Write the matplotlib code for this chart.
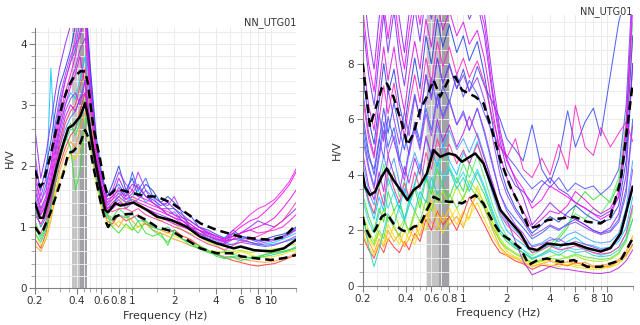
import matplotlib
matplotlib.use("Agg")
import matplotlib.pyplot as plt
from matplotlib.ticker import FixedLocator, NullFormatter, MultipleLocator

# frequency grid shared by the individual window curves (Hz)
freq = [0.2, 0.22, 0.24, 0.26, 0.28, 0.3, 0.33, 0.36, 0.39, 0.42, 0.46, 0.5, 0.55, 0.6,
        0.66, 0.72, 0.8, 0.9, 1.0, 1.1, 1.25, 1.4, 1.6, 1.8, 2.0, 2.3, 2.6, 3.0, 3.5, 4.0,
        4.6, 5.3, 6.0, 7.0, 8.0, 9.0, 10.5, 12.0, 13.5, 15.0]

# ---- left panel ----
left_mean_f = [0.2, 0.217, 0.229, 0.257, 0.287, 0.32, 0.347, 0.376, 0.422, 0.458, 0.48, 0.525,
               0.588, 0.638, 0.67, 0.754, 0.82, 1.02, 1.27, 1.5, 1.92, 2.47, 3.08, 4.05, 5.35,
               6.0, 7.5, 9.9, 12.3, 15.0]
left_mean = [1.39, 1.15, 1.15, 1.55, 1.99, 2.37, 2.62, 2.67, 2.81, 3.03, 2.81, 2.26, 1.66, 1.28,
             1.24, 1.39, 1.35, 1.40, 1.28, 1.17, 1.11, 1.0, 0.84, 0.73, 0.65, 0.68, 0.62, 0.60,
             0.65, 0.79]
left_upper = [1.93, 1.66, 1.72, 2.15, 2.64, 3.08, 3.30, 3.44, 3.55, 3.55, 3.35, 2.64, 2.10, 1.66,
              1.50, 1.61, 1.61, 1.55, 1.50, 1.50, 1.39, 1.22, 1.06, 0.95, 0.87, 0.84, 0.81,
              0.79, 0.84, 1.03]
left_lower = [1.0, 0.88, 0.95, 1.22, 1.55, 1.88, 2.21, 2.24, 2.37, 2.59, 2.48, 1.99, 1.44, 1.11,
              1.0, 1.17, 1.2, 1.22, 1.11, 1.0, 0.93, 0.79, 0.65, 0.57, 0.57, 0.52, 0.49, 0.46,
              0.49, 0.54]

left_windows = [
    ("#ff3030", [0.8, 0.65, 0.9, 1.3, 1.7, 2.0, 2.3, 2.5, 2.6, 2.9, 3.2, 2.4, 1.8, 1.4, 1.1, 1.05, 1.2, 1.1, 1.15, 1.2, 1.05, 1.0, 0.95, 0.9, 0.95, 0.85, 0.8, 0.7, 0.6, 0.55, 0.5, 0.45, 0.42, 0.38, 0.36, 0.38, 0.40, 0.45, 0.5, 0.55]),
    ("#ff9a20", [0.7, 0.6, 0.8, 1.1, 1.5, 1.9, 2.2, 2.4, 2.3, 2.6, 2.9, 2.5, 1.9, 1.5, 1.2, 1.1, 1.0, 1.2, 1.1, 1.0, 1.05, 0.95, 0.9, 0.85, 0.8, 0.75, 0.7, 0.65, 0.6, 0.55, 0.52, 0.5, 0.48, 0.45, 0.43, 0.42, 0.44, 0.48, 0.52, 0.58]),
    ("#f0e000", [0.9, 0.7, 0.8, 1.2, 1.6, 1.8, 2.0, 2.2, 2.1, 2.3, 2.6, 2.3, 1.7, 1.3, 1.1, 1.0, 1.1, 1.0, 0.95, 1.0, 1.1, 1.0, 0.95, 0.9, 0.85, 0.8, 0.75, 0.68, 0.62, 0.6, 0.58, 0.55, 0.6, 0.55, 0.5, 0.5, 0.52, 0.55, 0.6, 0.62]),
    ("#30e030", [1.1, 0.85, 1.0, 1.4, 1.9, 2.2, 2.5, 2.3, 1.6, 1.9, 2.8, 2.6, 2.0, 1.5, 1.2, 1.0, 0.9, 1.05, 0.95, 1.1, 0.9, 0.85, 0.9, 0.7, 0.95, 0.8, 0.75, 0.7, 0.62, 0.52, 0.48, 0.5, 0.45, 0.48, 0.5, 0.55, 0.58, 0.6, 0.62, 0.65]),
    ("#a0f000", [1.3, 1.0, 1.2, 1.5, 2.0, 2.4, 2.7, 2.9, 3.0, 3.3, 3.5, 2.8, 2.1, 1.6, 1.3, 1.4, 1.5, 1.3, 1.5, 1.4, 1.3, 1.2, 1.1, 1.15, 1.05, 0.95, 0.9, 0.85, 0.75, 0.7, 0.62, 0.6, 0.62, 0.58, 0.6, 0.62, 0.64, 0.66, 0.7, 0.72]),
    ("#00c8ff", [1.6, 1.3, 1.5, 3.6, 2.2, 2.6, 3.0, 3.2, 3.1, 3.4, 3.8, 3.0, 2.2, 1.7, 1.4, 1.3, 1.6, 1.4, 1.5, 1.6, 1.4, 1.5, 1.3, 1.2, 1.15, 1.1, 1.0, 0.9, 0.85, 0.8, 0.75, 0.7, 0.8, 0.75, 0.7, 0.72, 0.75, 0.8, 0.85, 0.9]),
    ("#20d0a0", [0.9, 0.75, 0.95, 1.3, 1.7, 2.1, 2.4, 2.6, 2.6, 2.8, 3.0, 2.4, 1.8, 1.4, 1.15, 1.1, 1.2, 1.15, 1.2, 1.1, 1.1, 1.0, 0.95, 1.0, 0.9, 0.8, 0.75, 0.65, 0.6, 0.55, 0.5, 0.52, 0.5, 0.5, 0.5, 0.52, 0.55, 0.58, 0.62, 0.68]),
    ("#40e040", [1.0, 0.8, 1.0, 1.3, 1.8, 2.2, 2.5, 2.7, 2.5, 2.7, 3.1, 2.5, 1.85, 1.45, 1.2, 1.15, 1.3, 1.2, 1.0, 0.9, 1.1, 0.95, 0.85, 0.75, 0.9, 0.8, 0.7, 0.65, 0.58, 0.55, 0.6, 0.55, 0.52, 0.5, 0.52, 0.55, 0.58, 0.6, 0.63, 0.66]),
    ("#3060ff", [1.8, 1.4, 1.7, 2.0, 2.6, 3.0, 3.4, 3.7, 3.9, 4.4, 4.6, 3.5, 2.4, 1.8, 1.5, 1.6, 1.7, 1.5, 1.9, 1.6, 1.8, 1.5, 1.4, 1.3, 1.3, 1.2, 1.0, 0.95, 0.85, 0.8, 0.78, 0.9, 0.85, 0.8, 0.75, 0.78, 0.8, 0.85, 0.9, 0.95]),
    ("#2040e0", [2.0, 1.6, 2.0, 2.4, 2.9, 3.3, 3.6, 3.9, 4.3, 4.5, 4.8, 3.6, 2.5, 1.9, 1.5, 1.7, 2.0, 1.6, 1.8, 1.5, 1.7, 1.6, 1.4, 1.5, 1.4, 1.25, 1.2, 1.0, 0.95, 0.88, 0.82, 0.95, 0.85, 0.82, 0.78, 0.8, 0.85, 0.88, 0.92, 1.0]),
    ("#4080ff", [1.3, 1.0, 1.15, 1.45, 1.9, 2.3, 2.6, 2.8, 2.9, 3.1, 3.4, 2.6, 1.95, 1.5, 1.3, 1.35, 1.5, 1.6, 1.4, 1.45, 1.6, 1.4, 1.3, 1.2, 1.25, 1.1, 1.0, 0.9, 0.82, 0.78, 0.72, 0.9, 0.8, 0.75, 0.72, 0.7, 0.72, 0.75, 0.78, 0.82]),
    ("#9020f0", [2.6, 1.8, 2.2, 2.7, 3.2, 3.6, 4.0, 4.3, 4.5, 4.6, 4.7, 3.4, 2.3, 1.8, 1.45, 1.5, 1.8, 1.55, 1.7, 1.65, 1.5, 1.45, 1.35, 1.4, 1.3, 1.15, 1.1, 1.0, 0.9, 0.85, 0.8, 0.85, 0.9, 1.0, 1.1, 1.05, 1.0, 1.1, 1.2, 1.3]),
    ("#8a40ff", [1.5, 1.2, 1.35, 1.7, 2.1, 2.5, 2.9, 3.1, 3.2, 3.0, 3.4, 2.7, 2.0, 1.55, 1.3, 1.35, 1.45, 1.3, 1.4, 1.35, 1.3, 1.25, 1.2, 1.15, 1.1, 1.05, 0.95, 0.9, 0.8, 0.75, 0.7, 0.72, 0.75, 0.72, 0.7, 0.68, 0.7, 0.75, 0.8, 0.85]),
    ("#b030ff", [2.2, 1.5, 1.8, 2.2, 2.7, 3.1, 3.5, 3.8, 4.0, 4.1, 4.5, 3.3, 2.3, 1.8, 1.5, 1.6, 1.9, 1.7, 1.6, 1.9, 1.6, 1.5, 1.4, 1.35, 1.5, 1.2, 1.1, 1.0, 0.92, 0.85, 0.78, 0.8, 0.78, 0.75, 0.72, 0.75, 0.78, 0.82, 0.88, 0.95]),
    ("#a030e0", [1.6, 1.25, 1.45, 1.8, 2.3, 2.7, 3.1, 3.4, 3.6, 3.9, 4.1, 3.1, 2.2, 1.65, 1.35, 1.45, 1.65, 1.45, 1.55, 1.7, 1.5, 1.4, 1.3, 1.3, 1.2, 1.15, 1.05, 0.95, 0.88, 0.82, 0.76, 0.8, 0.82, 0.8, 0.78, 0.78, 0.8, 0.84, 0.9, 0.98]),
    ("#ff3399", [1.0, 0.9, 1.1, 1.4, 1.8, 2.3, 2.7, 2.9, 3.0, 3.3, 3.6, 2.9, 2.1, 1.6, 1.3, 1.25, 1.3, 1.3, 1.25, 1.3, 1.2, 1.15, 1.1, 1.05, 1.0, 0.95, 0.88, 0.8, 0.72, 0.68, 0.62, 0.7, 0.75, 0.8, 0.85, 0.9, 1.0, 1.1, 1.25, 1.4]),
    ("#ff00ff", [1.4, 1.2, 1.4, 1.7, 2.2, 2.6, 3.0, 3.3, 3.5, 3.8, 3.3, 2.6, 2.0, 1.6, 1.3, 1.4, 1.5, 1.4, 1.45, 1.4, 1.35, 1.3, 1.25, 1.2, 1.15, 1.1, 1.0, 0.95, 0.9, 0.85, 0.8, 0.9, 1.0, 1.1, 1.15, 1.25, 1.4, 1.55, 1.7, 1.9]),
    ("#e800e8", [1.2, 1.05, 1.2, 1.5, 2.0, 2.4, 2.8, 3.0, 2.9, 3.1, 3.2, 2.5, 1.9, 1.5, 1.25, 1.3, 1.4, 1.35, 1.4, 1.35, 1.3, 1.25, 1.15, 1.1, 1.05, 1.0, 0.95, 0.85, 0.8, 0.75, 0.72, 0.8, 0.9, 0.95, 1.0, 1.05, 1.15, 1.3, 1.45, 1.6]),
    ("#ff10e0", [1.7, 1.3, 1.5, 1.9, 2.4, 2.8, 3.2, 3.5, 3.8, 4.2, 4.4, 3.2, 2.3, 1.7, 1.4, 1.5, 1.6, 1.5, 1.6, 1.5, 1.45, 1.4, 1.3, 1.25, 1.2, 1.1, 1.05, 0.95, 0.85, 0.8, 0.75, 0.85, 0.9, 0.95, 0.9, 0.92, 0.95, 1.0, 1.1, 1.2]),
    ("#f020f0", [1.9, 1.4, 1.6, 2.0, 2.5, 2.9, 3.4, 3.7, 4.1, 4.5, 4.3, 3.1, 2.2, 1.7, 1.4, 1.45, 1.55, 1.45, 1.5, 1.45, 1.4, 1.35, 1.3, 1.2, 1.15, 1.05, 1.0, 0.9, 0.85, 0.8, 0.78, 0.95, 1.05, 1.2, 1.3, 1.35, 1.45, 1.6, 1.75, 1.95]),
]

# ---- right panel ----
right_mean_f = [0.2, 0.2075, 0.2246, 0.2437, 0.271, 0.294, 0.327, 0.374, 0.409, 0.451, 0.501,
                0.558, 0.621, 0.69, 0.789, 0.879, 0.978, 1.21, 1.38, 1.58, 1.81, 2.12, 2.49,
                2.85, 3.26, 3.82, 4.73, 5.86, 7.26, 8.98, 10.5, 12.4, 15.0]
right_mean = [4.05, 3.57, 3.27, 3.39, 3.93, 4.23, 3.81, 3.39, 3.09, 3.45, 3.63, 4.05, 4.89, 4.65,
              4.77, 4.71, 4.47, 4.77, 4.41, 3.57, 2.73, 2.31, 1.90, 1.36, 1.29, 1.53, 1.47,
              1.53, 1.36, 1.24, 1.36, 1.90, 3.57]
right_upper = [8.01, 7.29, 5.73, 6.33, 7.11, 7.29, 6.81, 5.85, 5.07, 5.49, 6.33, 6.81, 7.41, 6.81,
               7.41, 7.53, 7.05, 6.81, 6.57, 5.61, 4.53, 3.57, 2.85, 2.08, 2.14, 2.37, 2.43,
               2.49, 2.31, 2.25, 2.49, 3.81, 7.29]
right_lower = [2.49, 2.13, 1.77, 2.01, 2.49, 2.61, 2.25, 2.01, 1.95, 2.13, 2.19, 2.73, 3.21, 3.09,
               3.03, 3.03, 2.97, 3.27, 2.97, 2.37, 1.89, 1.65, 1.36, 0.76, 0.93, 0.99, 0.87,
               0.93, 0.69, 0.69, 0.81, 0.93, 1.71]

right_windows = [
    ("#ff3030", [1.8, 1.3, 1.0, 1.5, 1.2, 1.7, 1.4, 1.2, 1.6, 1.3, 1.9, 1.6, 2.4, 2.0, 2.7, 2.2, 2.5, 2.0, 2.6, 3.2, 2.7, 2.2, 1.6, 1.2, 1.1, 0.9, 0.8, 0.6, 0.75, 0.7, 0.8, 0.72, 0.85, 0.75, 0.68, 0.7, 0.72, 0.9, 1.1, 1.5]),
    ("#ff9a20", [2.1, 1.6, 1.2, 1.7, 1.4, 2.0, 1.6, 1.9, 1.4, 1.7, 2.2, 1.8, 2.6, 2.3, 2.0, 2.6, 2.2, 2.5, 2.1, 2.8, 3.3, 2.8, 2.0, 1.4, 1.15, 1.0, 0.85, 0.7, 0.8, 0.9, 0.78, 0.88, 0.8, 0.85, 0.72, 0.75, 0.8, 0.95, 1.25, 1.8]),
    ("#f0e000", [2.3, 1.7, 1.4, 1.9, 1.5, 2.2, 1.8, 1.5, 2.0, 1.7, 1.5, 2.1, 2.5, 2.9, 2.3, 1.9, 2.4, 2.8, 2.2, 2.5, 3.0, 2.4, 1.8, 1.35, 1.1, 1.0, 0.88, 0.72, 0.82, 0.75, 0.7, 0.78, 0.68, 0.64, 0.6, 0.62, 0.68, 0.8, 1.05, 1.45]),
    ("#ffd000", [1.9, 1.4, 1.1, 1.5, 1.9, 1.6, 2.2, 1.7, 1.5, 2.0, 1.7, 2.4, 2.0, 3.1, 2.6, 2.3, 2.8, 2.2, 2.7, 2.4, 3.6, 2.9, 2.2, 1.6, 1.25, 1.05, 0.95, 0.78, 0.88, 0.95, 0.82, 0.85, 0.75, 0.72, 0.68, 0.66, 0.7, 0.88, 1.2, 1.7]),
    ("#a0f000", [2.6, 2.0, 1.6, 2.2, 2.8, 2.3, 2.7, 2.1, 2.4, 1.9, 2.6, 3.1, 2.7, 3.5, 3.0, 3.4, 2.9, 3.6, 3.1, 3.8, 3.4, 3.0, 2.3, 1.7, 1.4, 1.2, 1.05, 0.85, 0.95, 1.05, 1.15, 1.0, 1.1, 0.95, 0.9, 0.88, 0.95, 1.15, 1.7, 2.7]),
    ("#30e030", [3.3, 2.5, 2.0, 2.8, 2.3, 3.4, 2.7, 3.1, 2.4, 2.9, 3.5, 2.8, 3.9, 3.3, 4.2, 3.6, 3.2, 3.9, 3.4, 4.4, 3.8, 3.3, 2.5, 1.9, 1.6, 1.35, 1.2, 0.95, 1.15, 1.35, 1.7, 2.1, 2.9, 3.4, 3.1, 3.3, 3.0, 3.7, 5.5, 9.0]),
    ("#50f070", [4.0, 3.0, 2.6, 3.5, 4.4, 3.6, 4.1, 3.2, 3.8, 3.0, 3.6, 4.3, 3.7, 4.6, 4.1, 4.8, 4.2, 3.7, 4.4, 3.9, 4.7, 3.9, 2.9, 2.2, 1.8, 1.5, 1.3, 1.1, 1.3, 1.5, 1.8, 2.2, 2.6, 2.4, 2.8, 2.6, 3.1, 3.9, 6.0, 9.5]),
    ("#60e040", [2.4, 1.8, 1.5, 2.0, 1.7, 2.5, 2.1, 1.8, 2.3, 2.0, 2.7, 2.3, 3.1, 2.7, 3.4, 2.9, 3.3, 2.8, 3.2, 3.6, 3.2, 2.8, 2.1, 1.6, 1.35, 1.15, 1.0, 0.82, 0.92, 1.0, 0.95, 1.05, 1.15, 1.05, 1.0, 0.95, 1.0, 1.2, 1.6, 2.4]),
    ("#20d0c0", [2.7, 1.4, 0.7, 1.3, 2.0, 2.6, 2.2, 2.9, 2.4, 3.1, 2.7, 3.4, 3.0, 3.9, 3.3, 3.7, 4.2, 3.5, 3.9, 3.4, 4.1, 3.5, 2.6, 2.0, 1.7, 1.4, 1.2, 1.0, 1.1, 1.25, 1.1, 1.3, 1.2, 1.25, 1.1, 1.05, 1.1, 1.3, 1.7, 2.4]),
    ("#00c8ff", [3.8, 3.0, 2.4, 3.2, 2.7, 3.9, 3.3, 2.8, 3.5, 3.0, 3.7, 4.4, 3.8, 4.9, 4.3, 5.1, 4.5, 4.0, 4.8, 4.4, 5.2, 4.3, 3.3, 2.5, 2.0, 1.7, 1.5, 1.2, 1.35, 1.5, 1.35, 1.6, 1.75, 1.5, 1.45, 1.35, 1.4, 1.6, 2.1, 3.2]),
    ("#30d8f0", [3.1, 2.3, 1.9, 2.6, 3.3, 2.8, 3.4, 2.7, 2.3, 2.9, 3.6, 3.1, 4.0, 3.5, 4.5, 3.9, 4.3, 3.7, 4.1, 3.6, 4.2, 3.6, 2.7, 2.0, 1.7, 1.45, 1.3, 1.0, 1.15, 1.3, 1.2, 1.4, 1.3, 1.35, 1.2, 1.1, 1.2, 1.4, 1.9, 2.8]),
    ("#40a0ff", [4.5, 3.4, 2.9, 3.9, 4.7, 4.0, 4.6, 3.7, 3.3, 4.1, 4.8, 4.2, 5.3, 4.7, 5.8, 5.0, 5.6, 4.9, 5.3, 4.8, 5.5, 4.7, 3.6, 2.7, 2.3, 2.0, 1.7, 1.45, 1.55, 1.75, 1.6, 1.85, 1.95, 1.75, 1.6, 1.55, 1.6, 1.9, 2.8, 4.5]),
    ("#3060ff", [5.6, 4.3, 3.6, 4.8, 5.9, 5.0, 5.7, 4.6, 4.0, 4.9, 5.8, 5.0, 6.4, 5.6, 6.9, 6.1, 6.7, 5.8, 6.3, 5.6, 6.4, 5.5, 4.3, 3.3, 2.8, 2.4, 2.1, 1.7, 1.9, 2.15, 2.0, 2.25, 2.4, 2.2, 2.0, 1.9, 2.0, 2.4, 3.5, 6.0]),
    ("#3848f0", [6.2, 4.8, 4.0, 5.2, 6.4, 5.5, 6.6, 5.6, 4.9, 5.8, 6.9, 6.0, 7.6, 6.8, 8.2, 7.3, 8.0, 7.1, 7.8, 7.0, 7.9, 7.2, 6.6, 6.0, 5.3, 4.9, 4.5, 5.8, 4.2, 3.7, 4.6, 6.3, 5.0, 5.9, 6.4, 5.4, 7.6, 9.5, 10.5, 11.0]),
    ("#2040e0", [7.6, 6.0, 5.1, 6.6, 8.0, 6.9, 7.8, 6.5, 5.7, 6.9, 8.2, 7.1, 9.0, 8.0, 9.6, 8.6, 9.4, 8.4, 9.0, 8.1, 8.8, 7.6, 5.8, 4.3, 3.5, 2.8, 2.4, 1.9, 2.2, 2.5, 2.3, 2.65, 2.9, 2.6, 2.4, 2.3, 2.4, 2.9, 4.5, 8.0]),
    ("#5050ff", [5.9, 4.6, 4.2, 5.3, 4.6, 6.1, 5.2, 4.5, 5.5, 4.7, 5.9, 5.2, 6.6, 7.5, 6.4, 7.2, 6.6, 7.6, 6.8, 7.4, 6.9, 6.2, 5.5, 5.0, 4.7, 4.3, 3.9, 3.5, 3.8, 3.55, 3.9, 3.4, 3.7, 3.5, 3.6, 3.3, 3.6, 4.2, 6.5, 11.0]),
    ("#6a30f0", [9.5, 7.6, 6.5, 8.2, 9.8, 8.4, 9.9, 8.2, 7.2, 8.6, 10.0, 8.8, 10.5, 9.6, 11.0, 10.2, 10.8, 9.8, 10.4, 9.6, 10.2, 9.0, 6.8, 5.2, 4.2, 3.6, 3.4, 3.0, 3.6, 3.9, 3.5, 3.3, 3.0, 2.8, 2.6, 2.5, 2.7, 3.2, 5.0, 9.0]),
    ("#9020f0", [11.0, 9.0, 7.8, 9.6, 11.0, 9.8, 11.0, 9.6, 8.4, 9.8, 11.0, 10.0, 11.5, 10.8, 11.5, 11.0, 11.5, 10.8, 11.2, 10.5, 11.0, 9.8, 7.4, 5.6, 4.6, 3.8, 3.2, 2.2, 2.6, 3.0, 2.7, 2.5, 2.4, 2.2, 2.0, 1.9, 2.1, 2.6, 4.0, 8.0]),
    ("#a040ff", [5.3, 4.2, 3.5, 4.6, 5.6, 4.7, 5.4, 4.4, 3.8, 4.8, 5.6, 4.9, 6.2, 5.4, 6.8, 6.0, 6.6, 5.8, 6.2, 5.6, 6.4, 5.6, 4.4, 3.3, 2.7, 2.2, 1.9, 1.4, 1.5, 1.65, 1.7, 1.5, 1.6, 1.5, 1.4, 1.3, 1.4, 1.7, 2.5, 4.2]),
    ("#8c3cf0", [7.0, 5.5, 4.7, 6.2, 5.2, 7.1, 6.0, 5.1, 6.3, 5.4, 6.8, 6.0, 7.6, 6.7, 8.2, 7.3, 7.9, 7.1, 7.6, 7.0, 7.5, 6.7, 5.3, 4.0, 3.3, 2.7, 2.3, 1.8, 2.0, 2.2, 2.05, 2.2, 2.3, 2.1, 1.95, 1.85, 1.95, 2.3, 3.3, 5.8]),
    ("#b020e0", [4.8, 3.6, 3.1, 4.1, 3.4, 4.7, 4.0, 3.4, 4.3, 3.7, 4.6, 4.0, 5.4, 4.7, 6.0, 5.2, 5.8, 5.0, 5.5, 6.1, 5.4, 4.6, 3.7, 2.8, 2.4, 1.6, 0.9, 0.4, 0.55, 0.7, 0.62, 0.6, 0.55, 0.5, 0.46, 0.45, 0.5, 0.65, 0.9, 1.3]),
    ("#ff3399", [4.0, 3.1, 2.6, 3.5, 2.9, 4.2, 3.5, 3.0, 3.7, 3.2, 4.1, 3.5, 4.8, 4.2, 5.3, 4.6, 5.1, 4.4, 4.9, 4.4, 5.1, 4.4, 3.4, 2.6, 2.2, 1.9, 1.6, 1.2, 1.3, 1.45, 1.3, 1.35, 1.45, 1.3, 1.2, 1.15, 1.2, 1.4, 1.9, 2.9]),
    ("#ff20c0", [6.8, 5.3, 4.6, 6.0, 7.2, 6.2, 7.3, 6.1, 5.4, 6.5, 7.6, 6.6, 8.2, 7.3, 8.8, 7.9, 8.6, 7.6, 8.2, 7.5, 8.1, 7.3, 6.0, 5.0, 4.6, 5.3, 4.2, 3.9, 4.6, 4.0, 5.1, 4.2, 6.5, 5.0, 4.7, 5.7, 5.0, 5.5, 5.9, 5.2]),
    ("#ff00ff", [10.0, 8.0, 7.0, 8.8, 10.2, 8.9, 10.4, 8.8, 7.8, 9.2, 10.5, 9.4, 11.0, 10.0, 11.2, 10.4, 11.0, 10.0, 10.6, 9.8, 10.4, 9.4, 7.0, 5.4, 4.5, 3.9, 3.5, 2.8, 3.1, 3.6, 3.4, 3.2, 3.0, 2.8, 2.6, 2.4, 2.6, 3.2, 5.5, 10.0]),
    ("#e010e0", [8.2, 6.5, 5.6, 7.2, 8.6, 7.4, 8.6, 7.2, 6.3, 7.6, 8.8, 7.8, 9.6, 8.6, 10.2, 9.2, 9.9, 9.0, 9.5, 8.7, 9.2, 8.2, 6.3, 4.7, 3.9, 3.2, 2.7, 2.1, 2.4, 2.7, 2.6, 2.9, 3.4, 3.1, 2.8, 2.6, 2.8, 3.4, 5.8, 10.5]),
]

panels = [
    dict(windows=left_windows, mf=left_mean_f, mean=left_mean, up=left_upper, lo=left_lower,
         band=(0.367, 0.422, 0.476), ylim=4.26, ymajor=1, yminor=0.2,
         rect=[0.0547, 0.1138, 0.4078, 0.80], title_y=0.93),
    dict(windows=right_windows, mf=right_mean_f, mean=right_mean, up=right_upper, lo=right_lower,
         band=(0.552, 0.683, 0.811), ylim=9.75, ymajor=2, yminor=0.5,
         rect=[0.5667, 0.12, 0.4219, 0.8338], title_y=0.966),
]

xmajor = [0.2, 0.4, 0.6, 0.8, 1, 2, 4, 6, 8, 10]
xmajor_labels = ["0.2", "0.4", "0.6", "0.8", "1", "2", "4", "6", "8", "10"]
xminor = [0.25, 0.3, 0.35, 0.45, 0.5, 0.55, 0.7, 0.9, 1.5, 3, 5, 7, 9, 15]
xgrid = [0.3, 0.5, 0.7, 0.9, 3, 5, 7, 9]

fig = plt.figure(figsize=(6.4, 3.25), dpi=100)
for p in panels:
    ax = fig.add_axes(p["rect"])
    lo, mid, hi = p["band"]
    ax.axvspan(lo, mid, color="#c4c4c4", zorder=0.5, lw=0)
    ax.axvspan(mid, hi, color="#a2a2a6", zorder=0.5, lw=0)
    for color, vals in p["windows"]:
        ax.plot(freq, vals, color=color, lw=0.75, alpha=0.85, zorder=2)
    ax.plot(p["mf"], p["mean"], color="black", lw=1.8, zorder=4)
    ax.plot(p["mf"], p["up"], color="black", lw=1.8, ls=(0, (3.5, 2)), zorder=4)
    ax.plot(p["mf"], p["lo"], color="black", lw=1.8, ls=(0, (3.5, 2)), zorder=4)

    ax.set_xscale("log")
    ax.set_xlim(0.2, 15)
    ax.set_ylim(0, p["ylim"])
    ax.xaxis.set_major_locator(FixedLocator(xmajor))
    ax.set_xticklabels(xmajor_labels)
    ax.xaxis.set_minor_locator(FixedLocator(xminor))
    ax.xaxis.set_minor_formatter(NullFormatter())
    ax.yaxis.set_major_locator(MultipleLocator(p["ymajor"]))
    ax.yaxis.set_minor_locator(MultipleLocator(p["yminor"]))
    ax.grid(True, which="both", color="#ebebeb", lw=0.7, zorder=0)
    for g in xgrid:
        ax.axvline(g, color="#ebebeb", lw=0.7, zorder=0)
    ax.set_axisbelow(True)
    for s in ["top", "right"]:
        ax.spines[s].set_visible(False)
    for s in ["left", "bottom"]:
        ax.spines[s].set_color("#808080")
        ax.spines[s].set_linewidth(0.8)
    ax.tick_params(which="major", length=4, color="#808080", labelsize=7.5, labelcolor="#333333", pad=2)
    ax.tick_params(which="minor", length=3, color="#999999")
    ax.set_xlabel("Frequency (Hz)", fontsize=8, color="#333333", labelpad=3)
    ax.set_ylabel("H/V", fontsize=8, color="#333333", labelpad=4)
    fig.text(p["rect"][0] + p["rect"][2], p["title_y"], "NN_UTG01", ha="right", va="center",
             fontsize=7, color="#333333")

fig.savefig("out.png", dpi=100)
